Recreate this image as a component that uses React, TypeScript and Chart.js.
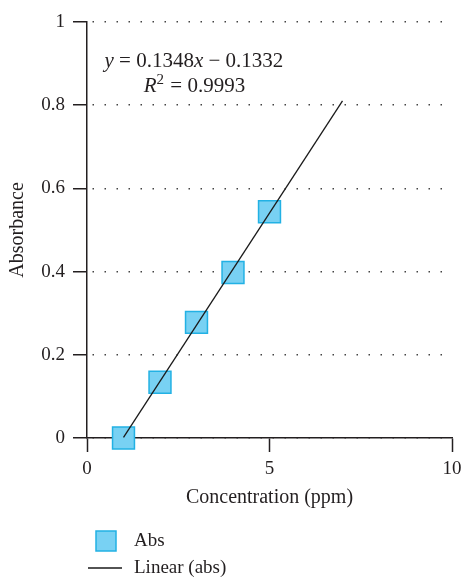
import React, { useEffect, useRef } from "react";
import { Chart, registerables } from "chart.js";

Chart.register(...registerables);

// ---- data ----
const concentration = [1, 2, 3, 4, 5];
const absorbance = [0.0, 0.134, 0.278, 0.398, 0.544];
const trendX = [1, 7];
const trendY = [0.0016, 0.8104];
const xTicks = [0, 5, 10];
const yTicks = [0, 0.2, 0.4, 0.6, 0.8, 1];
const seriesLabels = ["Abs", "Linear (abs)"];
const xTitle = "Concentration (ppm)";
const yTitle = "Absorbance";
const eqSlope = "0.1348";
const eqIntercept = "0.1332";
const eqR2 = "0.9993";
const eqAnchor = [2.93, 0.905];

const FONT = '"Liberation Serif", "Times New Roman", serif';
const INK = "#231f20";
const FILL = "#78d1f3";
const EDGE = "#22b1e4";

type Run = { t: string; italic?: boolean; sup?: boolean };

function drawRuns(ctx: CanvasRenderingContext2D, runs: Run[], cx: number, cy: number, size: number) {
  const fontFor = (r: Run) =>
    `${r.italic ? "italic " : ""}${r.sup ? Math.round(size * 0.72) : size}px ${FONT}`;
  let total = 0;
  for (const r of runs) {
    ctx.font = fontFor(r);
    total += ctx.measureText(r.t).width;
  }
  let x = cx - total / 2;
  ctx.textAlign = "left";
  ctx.textBaseline = "middle";
  for (const r of runs) {
    ctx.font = fontFor(r);
    ctx.fillText(r.t, x, r.sup ? cy - size * 0.3 : cy);
    x += ctx.measureText(r.t).width + (r.sup ? 1 : 0);
  }
}

const overlayPlugin = {
  id: "overlay",
  afterDraw(chart: any) {
    const ctx: CanvasRenderingContext2D = chart.ctx;
    const xs = chart.scales.x;
    const ys = chart.scales.y;
    const area = chart.chartArea;
    ctx.save();
    ctx.fillStyle = INK;
    // equation
    const cx = xs.getPixelForValue(eqAnchor[0]);
    const cy = ys.getPixelForValue(eqAnchor[1]);
    drawRuns(
      ctx,
      [
        { t: "y", italic: true },
        { t: " = " + eqSlope },
        { t: "x", italic: true },
        { t: " \u2212 " + eqIntercept },
      ],
      cx,
      cy,
      21
    );
    drawRuns(
      ctx,
      [{ t: "R", italic: true }, { t: "2", sup: true }, { t: " = " + eqR2 }],
      cx,
      cy + 25,
      21
    );

    // legend
    const ds0 = chart.data.datasets[1];
    const ds1 = chart.data.datasets[0];
    const lx = area.left;
    const row1 = chart.height - 37;
    const row2 = chart.height - 10;
    ctx.fillStyle = ds0.backgroundColor;
    ctx.strokeStyle = ds0.borderColor;
    ctx.lineWidth = 1.5;
    ctx.fillRect(lx + 9, row1 - 10, 20, 20);
    ctx.strokeRect(lx + 9, row1 - 10, 20, 20);
    ctx.strokeStyle = ds1.borderColor;
    ctx.lineWidth = 1.3;
    ctx.beginPath();
    ctx.moveTo(lx + 1, row2);
    ctx.lineTo(lx + 35, row2);
    ctx.stroke();
    ctx.fillStyle = INK;
    ctx.font = `19px ${FONT}`;
    ctx.textAlign = "left";
    ctx.textBaseline = "middle";
    ctx.fillText(ds0.label, lx + 47, row1);
    ctx.fillText(ds1.label, lx + 47, row2);
    ctx.restore();
  },
};

export default function App() {
  const canvasRef = useRef<HTMLCanvasElement | null>(null);

  useEffect(() => {
    if (!canvasRef.current) return;
    const chart = new Chart(canvasRef.current, {
      type: "scatter",
      data: {
        datasets: [
          {
            type: "line",
            label: seriesLabels[1],
            data: trendX.map((x, i) => ({ x, y: trendY[i] })),
            borderColor: "#1a1a1a",
            borderWidth: 1.3,
            pointRadius: 0,
            fill: false,
            clip: false,
            order: 0,
          },
          {
            type: "scatter",
            label: seriesLabels[0],
            data: concentration.map((x, i) => ({ x, y: absorbance[i] })),
            backgroundColor: FILL,
            borderColor: EDGE,
            borderWidth: 1.5,
            pointStyle: "rect",
            pointRadius: 15.5,
            pointHoverRadius: 15.5,
            clip: false,
            order: 1,
          },
        ],
      } as any,
      options: {
        animation: false,
        responsive: true,
        maintainAspectRatio: false,
        layout: { padding: { left: 0, right: 0, top: 22, bottom: 60 } },
        plugins: { legend: { display: false }, tooltip: { enabled: false } },
        scales: {
          x: {
            type: "linear",
            min: 0,
            max: 10,
            afterBuildTicks: (s: any) => {
              s.ticks = xTicks.map((v) => ({ value: v }));
            },
            afterFit: (s: any) => {
              s.height = 80;
            },
            ticks: {
              font: { family: FONT, size: 19 },
              color: INK,
              padding: 6,
              callback: (v: any) => String(v),
            },
            grid: {
              drawOnChartArea: false,
              drawTicks: true,
              tickLength: 14,
              tickColor: INK,
              tickWidth: 1.5,
            },
            border: { display: true, color: INK, width: 1.5 },
            title: {
              display: true,
              text: xTitle,
              font: { family: FONT, size: 20 },
              color: INK,
              padding: { top: 2, bottom: 8 },
            },
          },
          y: {
            type: "linear",
            min: 0,
            max: 1,
            afterBuildTicks: (s: any) => {
              s.ticks = yTicks.map((v) => ({ value: v }));
            },
            afterFit: (s: any) => {
              s.width = 87;
            },
            ticks: {
              font: { family: FONT, size: 19 },
              color: INK,
              padding: 8,
              callback: (v: any) => String(v),
            },
            grid: {
              drawOnChartArea: true,
              color: "#444",
              lineWidth: 1.5,
              drawTicks: true,
              tickLength: 14,
              tickColor: INK,
              tickWidth: 1.5,
              tickBorderDash: [],
            } as any,
            border: { display: true, color: INK, width: 1.5, dash: [1.5, 10.5], dashOffset: 7 },
            title: {
              display: true,
              text: yTitle,
              font: { family: FONT, size: 20 },
              color: INK,
              padding: { top: 6, bottom: 0 },
            },
          },
        },
      } as any,
      plugins: [overlayPlugin],
    });
    return () => chart.destroy();
  }, []);

  return (
    <div
      style={{
        position: "absolute",
        left: 0,
        top: 0,
        width: 463,
        height: 578,
        overflow: "hidden",
        background: "#fff",
      }}
    >
      <div style={{ position: "relative", width: 469, height: 578 }}>
        <canvas ref={canvasRef} />
      </div>
    </div>
  );
}
